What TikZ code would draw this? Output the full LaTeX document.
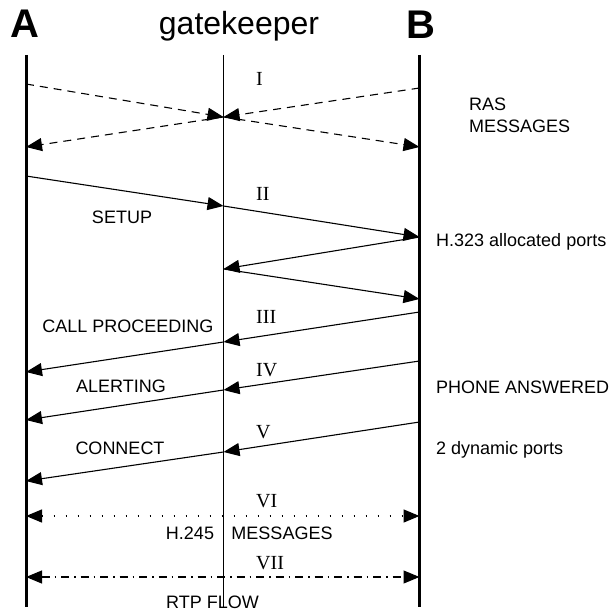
\documentclass[tikz,border=0pt]{standalone}
\usepackage{fontspec}
\setmainfont{Liberation Serif}
\setsansfont{Liberation Sans}
\usetikzlibrary{arrows.meta}

\begin{document}
\begin{tikzpicture}[x=1pt,y=-1pt,>={Triangle[length=16pt,width=13pt]},
  every node/.style={font=\sffamily\fontsize{18}{20}\selectfont,inner sep=0pt},
  party/.style={font=\sffamily\bfseries\fontsize{40}{40}\selectfont},
  life/.style={line width=3pt},
  msg/.style={line width=1.1pt,->},
  ras/.style={msg,dash pattern=on 8pt off 6pt},
  num/.style={font=\rmfamily\fontsize{20}{22}\selectfont,anchor=west},
  side/.style={anchor=base west}]
\useasboundingbox (0,0) rectangle (611,612);

\node[party] (tA) at (25,24) {A};
\node[party] (tB) at (420.5,24.5) {B};
\node[font=\sffamily\fontsize{32}{34}\selectfont,anchor=base] (tG) at (239,35) {gatekeeper};

\coordinate (A0) at (26,55);    \coordinate (A9) at (26,607);
\coordinate (G0) at (223.5,55); \coordinate (G9) at (223.5,607);
\coordinate (B0) at (419.5,55); \coordinate (B9) at (419.5,607);
\draw[life] (A0) -- (A9);
\draw[line width=1.3pt] (G0) -- (G9);
\draw[life] (B0) -- (B9);

\foreach \n/\y in {ras1/84,ras2/147,setup/176,cp/372,al/420,con/481,h/516,rtp/577}
  \coordinate (A-\n) at (26,\y);
\foreach \n/\y in {ras/117,setup/206,ports/269,cp/342,al/390,con/452}
  \coordinate (G-\n) at (223.5,\y);
\foreach \n/\y in {ras1/88,ras2/147,setup/237,ports/299,cp/312,al/361,con/422,h/516,rtp/577}
  \coordinate (B-\n) at (419.5,\y);

% registration
\draw[ras] (A-ras1) -- (G-ras);
\draw[ras] (B-ras1) -- (G-ras);
\draw[ras] (G-ras) -- (A-ras2);
\draw[ras] (G-ras) -- (B-ras2);

% call signalling
\draw[msg] (A-setup) -- (G-setup);
\draw[msg] (G-setup) -- (B-setup);
\draw[msg] (B-setup) -- (G-ports);
\draw[msg] (G-ports) -- (B-ports);
\foreach \m in {cp,al,con}{
  \draw[msg] (B-\m) -- (G-\m);
  \draw[msg] (G-\m) -- (A-\m);
}

% h.245 and media
\draw[msg,<->,line width=1.4pt,dash pattern=on 1.4pt off 10.6pt] (A-h) -- (B-h);
\draw[msg,<->,dash pattern=on 8pt off 5pt on 1.5pt off 5pt] (A-rtp) -- (B-rtp);

\node[num] (n1) at (256,79) {I};
\node[num] (n2) at (256,194) {II};
\node[num] (n3) at (256,317) {III};
\node[num] (n4) at (256,370) {IV};
\node[num] (n5) at (256,432) {V};
\node[num] (n6) at (256,501) {VI};
\node[num] (n7) at (256,563) {VII};

\node (setup) at (122,217) {SETUP};
\node (cp) at (128,326) {CALL PROCEEDING};
\node (al) at (121,386) {ALERTING};
\node (con) at (120,448) {CONNECT};
\node (h245) at (190,533) {H.245};
\node (h245m) at (282,533) {MESSAGES};
\node (rtp) at (212.5,602) {RTP FLOW};

\node[side] (ras) at (469,110.5) {RAS};
\node[side] (rasm) at (469,132.5) {MESSAGES};
\node[side] (ports) at (436,246.5) {H.323 allocated ports};
\node[side] (ans) at (436,393.5) {PHONE ANSWERED};
\node[side] (dyn) at (436,454.5) {2 dynamic ports};
\end{tikzpicture}
\end{document}
